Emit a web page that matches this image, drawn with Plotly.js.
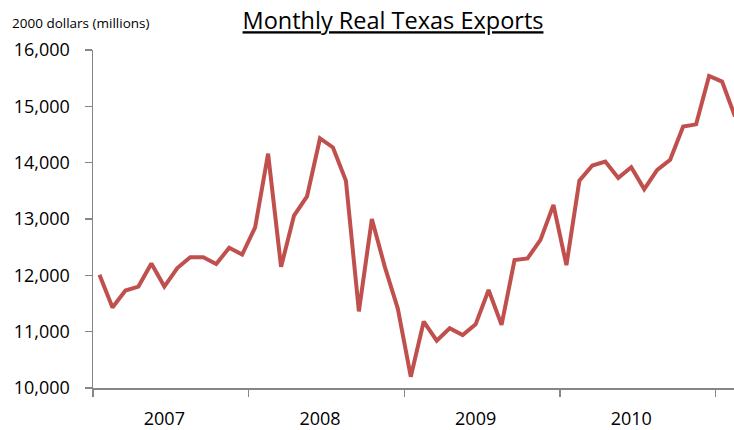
<!DOCTYPE html>
<html>
<head>
<meta charset="utf-8">
<script src="https://cdn.plot.ly/plotly-3.0.1.min.js"></script>
<style>html,body{margin:0;padding:0;background:#fff;}#chart{width:734px;height:430px;}</style>
</head>
<body>
<div id="chart"></div>
<script>
// Monthly real Texas exports, 2000 dollars (millions), Jan 2007 - Feb 2011
var months = [
  "2007-01","2007-02","2007-03","2007-04","2007-05","2007-06","2007-07","2007-08","2007-09","2007-10","2007-11","2007-12",
  "2008-01","2008-02","2008-03","2008-04","2008-05","2008-06","2008-07","2008-08","2008-09","2008-10","2008-11","2008-12",
  "2009-01","2009-02","2009-03","2009-04","2009-05","2009-06","2009-07","2009-08","2009-09","2009-10","2009-11","2009-12",
  "2010-01","2010-02","2010-03","2010-04","2010-05","2010-06","2010-07","2010-08","2010-09","2010-10","2010-11","2010-12",
  "2011-01","2011-02"
];
var exportsValues = [
  12010, 11430, 11730, 11800, 12210, 11800, 12130, 12320, 12320, 12200, 12490, 12370,
  12850, 14160, 12150, 13060, 13400, 14430, 14270, 13680, 11360, 13000, 12150, 11410,
  10200, 11180, 10840, 11060, 10940, 11130, 11740, 11120, 12270, 12300, 12630, 13250,
  12180, 13680, 13950, 14020, 13730, 13920, 13530, 13870, 14050, 14640, 14680, 15540,
  15440, 14820
];
var years = ["2007", "2008", "2009", "2010"];

var xIdx = months.map(function (m, i) { return i; });
// label each year at its June position, ticks at year boundaries
var yearLabelPos = years.map(function (y) { return months.indexOf(y + "-06"); });
var yearBoundaries = years.concat(["2011"]).map(function (y) { return months.indexOf(y + "-01") - 0.5; });

var FONT = "Open Sans, sans-serif";
var trace = {
  x: xIdx,
  y: exportsValues,
  type: "scatter",
  mode: "lines",
  line: { color: "#C0504D", width: 4 },
  hoverinfo: "skip"
};

var layout = {
  width: 734,
  height: 430,
  margin: { l: 93, r: 0, t: 50, b: 42 },
  paper_bgcolor: "#ffffff",
  plot_bgcolor: "#ffffff",
  showlegend: false,
  font: { family: FONT, color: "#000000" },
  title: {
    text: "Monthly Real Texas Exports",
    font: { family: FONT, size: 23.5, color: "#000000", lineposition: "under" },
    x: 393 / 734,
    xanchor: "center",
    xref: "container",
    y: 1 - 21 / 430,
    yanchor: "middle",
    yref: "container"
  },
  xaxis: {
    range: [-0.5, -0.5 + 641 / 12.97],
    showgrid: false,
    zeroline: false,
    showline: true,
    linecolor: "#868686",
    linewidth: 1.5,
    tickmode: "array",
    tickvals: yearLabelPos,
    ticktext: years,
    ticks: "",
    ticklabelstandoff: 14,
    tickfont: { family: FONT, size: 18, color: "#000000" },
    minor: {
      tickmode: "array",
      tickvals: yearBoundaries,
      ticks: "outside",
      ticklen: 7,
      tickwidth: 1.5,
      tickcolor: "#868686",
      showgrid: false
    },
    fixedrange: true
  },
  yaxis: {
    range: [10000, 16000],
    tickmode: "linear",
    tick0: 10000,
    dtick: 1000,
    tickformat: ",d",
    showgrid: false,
    zeroline: false,
    showline: true,
    linecolor: "#868686",
    linewidth: 1.5,
    ticks: "outside",
    ticklen: 7,
    tickwidth: 1.5,
    tickcolor: "#868686",
    ticklabelstandoff: 11,
    tickfont: { family: FONT, size: 18, color: "#000000" },
    fixedrange: true
  },
  annotations: [{
    text: "2000 dollars (millions)",
    xref: "paper", yref: "paper",
    x: -83 / 641, y: (388 - 23) / 338,
    xanchor: "left", yanchor: "middle",
    showarrow: false,
    font: { family: FONT, size: 13.5, color: "#000000" }
  }]
};

Plotly.newPlot("chart", [trace], layout, { displayModeBar: false, staticPlot: true });
</script>
</body>
</html>
